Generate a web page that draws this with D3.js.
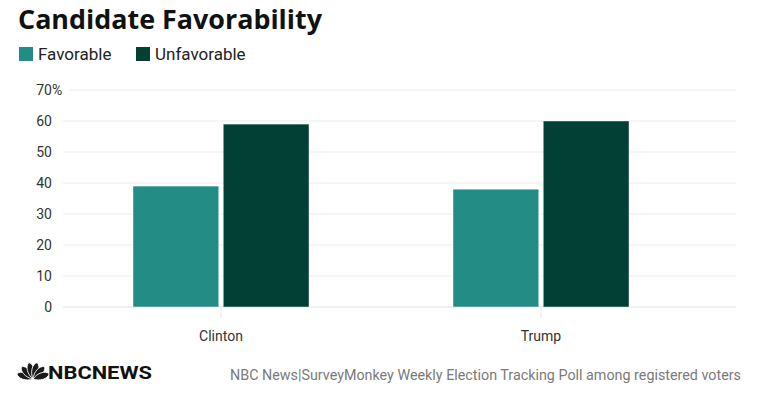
<!DOCTYPE html>
<html>
<head>
<meta charset="utf-8">
<script src="https://cdn.jsdelivr.net/npm/d3@7"></script>
<style>
  body { margin: 0; background: #fff; }
  svg { font-family: Roboto, "Noto Sans", sans-serif; }
</style>
</head>
<body>
<div id="chart"></div>
<script>
// Data
const candidates = ["Clinton", "Trump"];
const seriesNames = ["Favorable", "Unfavorable"];
const favorable = [39, 38];
const unfavorable = [59, 60];
const yTicks = [0, 10, 20, 30, 40, 50, 60, 70];
const seriesColors = ["#238c85", "#023f34"];

const width = 760, height = 399;

const svg = d3.select("#chart")
  .append("svg")
  .attr("width", width)
  .attr("height", height);

// Title
svg.append("text")
  .attr("x", 18)
  .attr("y", 29)
  .attr("textLength", 304)
  .attr("lengthAdjust", "spacingAndGlyphs")
  .style("font-family", "'Open Sans', Roboto, sans-serif")
  .style("font-size", "27px")
  .style("font-weight", "bold")
  .style("fill", "#111")
  .text("Candidate Favorability");

// Legend
const legendX = [19, 136];
const legend = svg.selectAll(".legend")
  .data(seriesNames)
  .join("g")
    .attr("class", "legend")
    .attr("transform", (d, i) => `translate(${legendX[i]}, 47)`);
legend.append("rect")
  .attr("width", 14)
  .attr("height", 14)
  .attr("fill", (d, i) => seriesColors[i]);
legend.append("text")
  .attr("x", 19)
  .attr("y", 13)
  .style("font-size", "17px")
  .style("fill", "#222")
  .text(d => d);

// Scales
const y = d3.scaleLinear()
  .domain([0, 70])
  .range([307, 90]);

const x0 = d3.scaleBand()
  .domain(candidates)
  .range([61, 701]);

const x1 = d3.scaleBand()
  .domain(seriesNames)
  .range([0, 176])
  .paddingInner(0.05);

// Gridlines
svg.selectAll(".grid")
  .data(yTicks)
  .join("line")
    .attr("class", "grid")
    .attr("x1", d => d === 70 ? 69 : 63)
    .attr("x2", 736)
    .attr("y1", d => y(d))
    .attr("y2", d => y(d))
    .attr("stroke", d => d === 0 ? "#e2e2e2" : "#ececec")
    .attr("stroke-width", 1);

// Y labels
svg.selectAll(".ylabel")
  .data(yTicks)
  .join("text")
    .attr("class", "ylabel")
    .attr("x", 52)
    .attr("y", d => y(d) + 5)
    .style("font-size", "14px")
    .style("fill", "#333")
    .style("text-anchor", "end")
    .text(d => d);
svg.append("text")
  .attr("x", 52)
  .attr("y", y(70) + 5)
  .style("font-size", "14px")
  .style("fill", "#333")
  .text("%");

// Category ticks and labels
const cats = svg.selectAll(".cat")
  .data(candidates)
  .join("g")
    .attr("class", "cat")
    .attr("transform", d => `translate(${x0(d) + x0.bandwidth() / 2}, 0)`);
cats.append("line")
  .attr("y1", 307)
  .attr("y2", 318)
  .attr("stroke", "#e6e6e6");
cats.append("text")
  .attr("y", 341)
  .style("font-size", "14px")
  .style("fill", "#333")
  .style("text-anchor", "middle")
  .text(d => d);

// Bars
const barData = candidates.map((c, i) => ({
  name: c,
  values: [
    { key: seriesNames[0], value: favorable[i] },
    { key: seriesNames[1], value: unfavorable[i] }
  ]
}));

svg.selectAll(".group")
  .data(barData)
  .join("g")
    .attr("class", "group")
    .attr("transform", d => `translate(${x0(d.name) + x0.bandwidth() / 2 - 88}, 0)`)
  .selectAll("rect")
  .data(d => d.values)
  .join("rect")
    .attr("x", d => x1(d.key))
    .attr("y", d => y(d.value))
    .attr("width", x1.bandwidth())
    .attr("height", d => y(0) - y(d.value))
    .attr("fill", (d, i) => seriesColors[i])
    .attr("stroke", "rgba(255,255,255,0.45)")
    .attr("stroke-width", 1);

// NBC News logo (simplified peacock + wordmark)
const logo = svg.append("g").attr("transform", "translate(33, 379)");
const angles = [-72, -43, -14, 14, 43, 72];
logo.selectAll("path")
  .data(angles)
  .join("path")
    .attr("d", "M0,0 C-4.5,-6 -4.5,-14 0,-17 C4.5,-14 4.5,-6 0,0 Z")
    .attr("transform", d => `rotate(${d})`)
    .attr("fill", "#1a1a1a")
    .attr("stroke", "#fff")
    .attr("stroke-width", 0.8);
svg.append("text")
  .attr("x", 48)
  .attr("y", 379)
  .attr("textLength", 104)
  .attr("lengthAdjust", "spacingAndGlyphs")
  .style("font-size", "19px")
  .style("font-weight", "bold")
  .style("fill", "#111")
  .text("NBCNEWS");

// Source
svg.append("text")
  .attr("x", 741)
  .attr("y", 380)
  .attr("text-anchor", "end")
  .attr("textLength", 511)
  .attr("lengthAdjust", "spacingAndGlyphs")
  .style("font-size", "14px")
  .style("fill", "#7a7a7a")
  .text("NBC News|SurveyMonkey Weekly Election Tracking Poll among registered voters");
</script>
</body>
</html>
